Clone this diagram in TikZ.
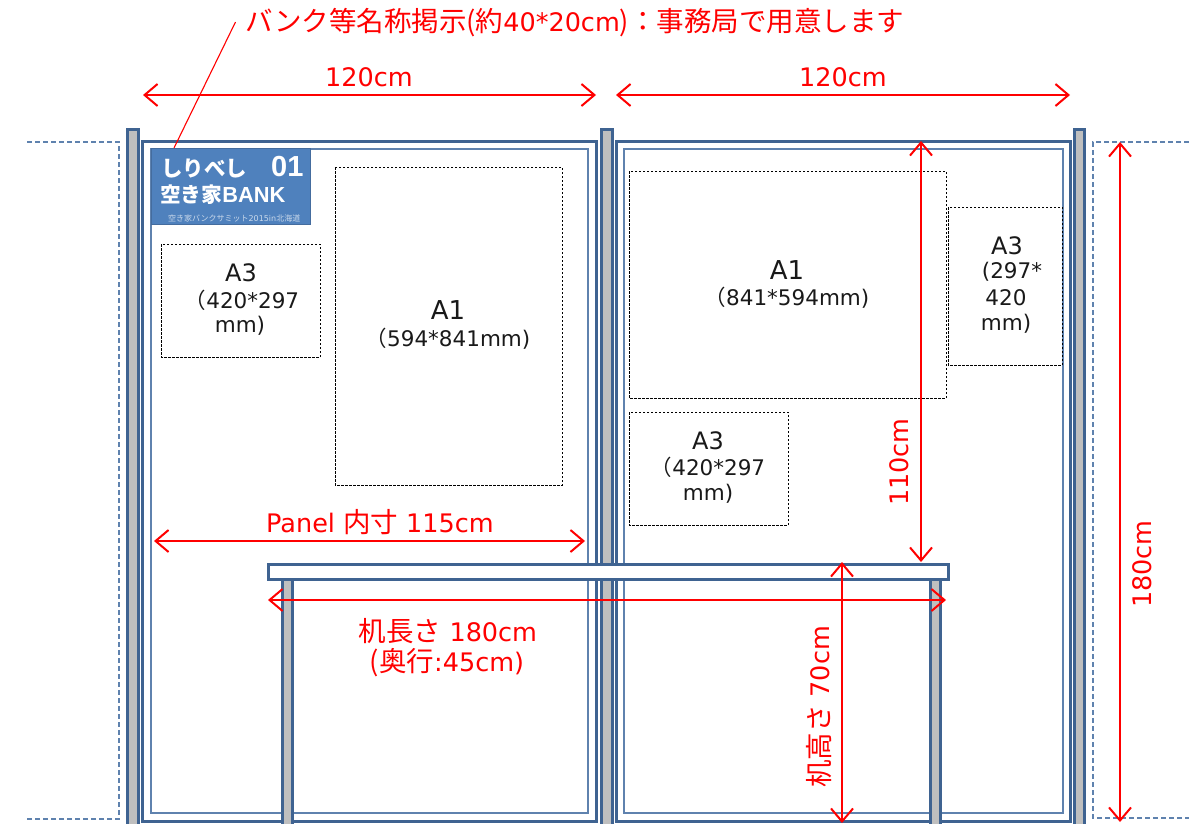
\documentclass[tikz,border=0pt]{standalone}
\usepackage{fontspec}
\setmainfont{DejaVu Sans}
\newfontfamily\jpf{Noto Sans CJK JP}
\newfontfamily\arf{Liberation Sans}
\usetikzlibrary{arrows.meta}
\definecolor{pblue}{HTML}{3F6391}
\definecolor{thinblue}{HTML}{5F82AE}
\definecolor{bannerblue}{HTML}{4F81BD}
\definecolor{postgrey}{HTML}{BFBFBF}
\newcommand{\fs}[1]{\fontsize{#1}{#1}\selectfont}
\newcommand{\jr}[1]{{\fontsize{27.5}{27.5}\jpf #1}}
\tikzset{
  panelouter/.style={draw=pblue,line width=3pt},
  panelinner/.style={draw=thinblue,line width=1.3pt},
  postbar/.style={draw=pblue,line width=3pt,fill=postgrey},
  tabletop/.style={draw=pblue,line width=3pt,fill=white},
  outline/.style={draw=thinblue,line width=1.3pt,dash pattern=on 5pt off 3pt},
  sheet/.style={draw=black,line width=1pt,dash pattern=on 2.5pt off 1.5pt},
  dim/.style={draw=red,line width=2pt,{Straight Barb[length=13pt,width=22pt,line width=2pt]}-{Straight Barb[length=13pt,width=22pt,line width=2pt]}},
  redtxt/.style={text=red,inner sep=0pt,font=\fs{25.5}},
  sheettxt/.style={text=black!90,inner sep=0pt,font=\fs{21.5}},
  sheetmid/.style={text=black!90,inner sep=0pt,font=\fs{24}},
  sheetbig/.style={text=black!90,inner sep=0pt,font=\fs{26}},
  bannertxt/.style={text=white,inner sep=0pt},
}
\begin{document}
\begin{tikzpicture}[x=1pt,y=-1pt]
\useasboundingbox (0,0) rectangle (1190,823);
\begin{scope}
\clip (0,0) rectangle (1190,823);
% neighbouring panels
\draw[outline] (27,142) -- (119,142) -- (119,819) -- (25,819);
\draw[outline] (1189,142) -- (1093,142) -- (1093,818) -- (1189,818);
% panels
\draw[panelouter] (142,141) rectangle (596,821);
\draw[panelinner] (151,149) rectangle (588,813);
\draw[panelouter] (616,141) rectangle (1070,821);
\draw[panelinner] (624,149) rectangle (1063,813);
% posts
\draw[postbar] (127.5,129) rectangle (138,830);
\draw[postbar] (601.5,129) rectangle (612,830);
\draw[postbar] (1074,129) rectangle (1084.5,830);
% banner
\node[draw=pblue!70!bannerblue,line width=0.8pt,fill=bannerblue,minimum width=159pt,minimum height=76pt,inner sep=0pt,anchor=north west] (banner) at (151,148) {};
\node[bannertxt,anchor=west,font=\fs{21.5}\jpf\bfseries] (bn1) at (161,168) {しりべし};
\node[bannertxt,anchor=west,font=\fs{29}\arf\bfseries] (bn2) at (271,167) {01};
\node[bannertxt,anchor=west,font=\fs{21.8}\arf\bfseries] (bn3) at (160,195) {{\fontsize{20.7}{20.7}\jpf 空き家}BANK};
\node[text=white!70!bannerblue,inner sep=0pt,anchor=west,font=\fs{8}] (bn4) at (168,218) {{\jpf 空き家バンクサミット}2015in{\jpf 北海道}};
% sheets
\draw[sheet] (161,244) rectangle (320,357);
\draw[sheet] (335,167) rectangle (562,485);
\draw[sheet] (629,171) rectangle (946,398);
\draw[sheet] (948,207) rectangle (1062,365);
\draw[sheet] (629,412) rectangle (788,525);
\node[sheetmid] (a31) at (241,273) {A3};
\node[sheettxt] (a31b) at (242,300) {{\jpf （}420*297};
\node[sheettxt] (a31c) at (240,326) {mm)};
\node[sheetbig] (a1l) at (448,310) {A1};
\node[sheettxt] (a1lb) at (448,339) {{\jpf （}594*841mm)};
\node[sheetbig] (a1r) at (787,270) {A1};
\node[sheettxt] (a1rb) at (787,298) {{\jpf （}841*594mm)};
\node[sheetmid] (a3r) at (1007,246) {A3};
\node[sheettxt] (a3rb) at (1012,272) {(297*};
\node[sheettxt] (a3rc) at (1006,298) {420};
\node[sheettxt] (a3rd) at (1006,324) {mm)};
\node[sheetmid] (a3b) at (708,441) {A3};
\node[sheettxt] (a3bb) at (708,467) {{\jpf （}420*297};
\node[sheettxt] (a3bc) at (708,494) {mm)};
% table
\draw[postbar] (282,579) rectangle (292.5,830);
\draw[postbar] (930,579) rectangle (940.5,830);
\draw[tabletop] (268,564.5) rectangle (948,579);
% labels
\node[redtxt,anchor=west] (title) at (245,23) {\jr{バンク等名称掲示(約}40*20cm\jr{)：事務局で用意します}};
\node[redtxt] (w1) at (369,77) {120cm};
\node[redtxt] (w2) at (843,77) {120cm};
\node[redtxt] (pw) at (380,522) {Panel \jr{内寸} 115cm};
\node[redtxt] (tl1) at (448,631) {\jr{机長さ} 180cm};
\node[redtxt] (tl2) at (447,663) {\jr{(奥行}:45cm)};
\node[redtxt,rotate=90] (h110) at (899,462) {110cm};
\node[redtxt,rotate=90] (h180) at (1142,564) {180cm};
\node[redtxt,rotate=90] (h70) at (819,707) {\jr{机高さ} 70cm};
% dimension end points
\coordinate (la) at (143,95); \coordinate (lb) at (596,95);
\coordinate (ra) at (616,95); \coordinate (rb) at (1070,95);
\coordinate (pa) at (154,541); \coordinate (pb) at (585,541);
\coordinate (ta) at (268,600); \coordinate (tb) at (946,600);
\coordinate (ha) at (921,141); \coordinate (hb) at (921,562);
\coordinate (fa) at (1120,142); \coordinate (fb) at (1120,822);
\coordinate (da) at (842,562); \coordinate (db) at (842,823);
\coordinate (leadA) at (235.5,22);
\coordinate (leadB) at (174,148);
\draw[dim] (la) -- (lb);
\draw[dim] (ra) -- (rb);
\draw[dim] (pa) -- (pb);
\draw[dim] (ta) -- (tb);
\draw[dim] (ha) -- (hb);
\draw[dim] (fa) -- (fb);
\draw[dim] (da) -- (db);
\draw[red,line width=1.1pt] (leadA) -- (leadB);
\end{scope}
\end{tikzpicture}
\end{document}
